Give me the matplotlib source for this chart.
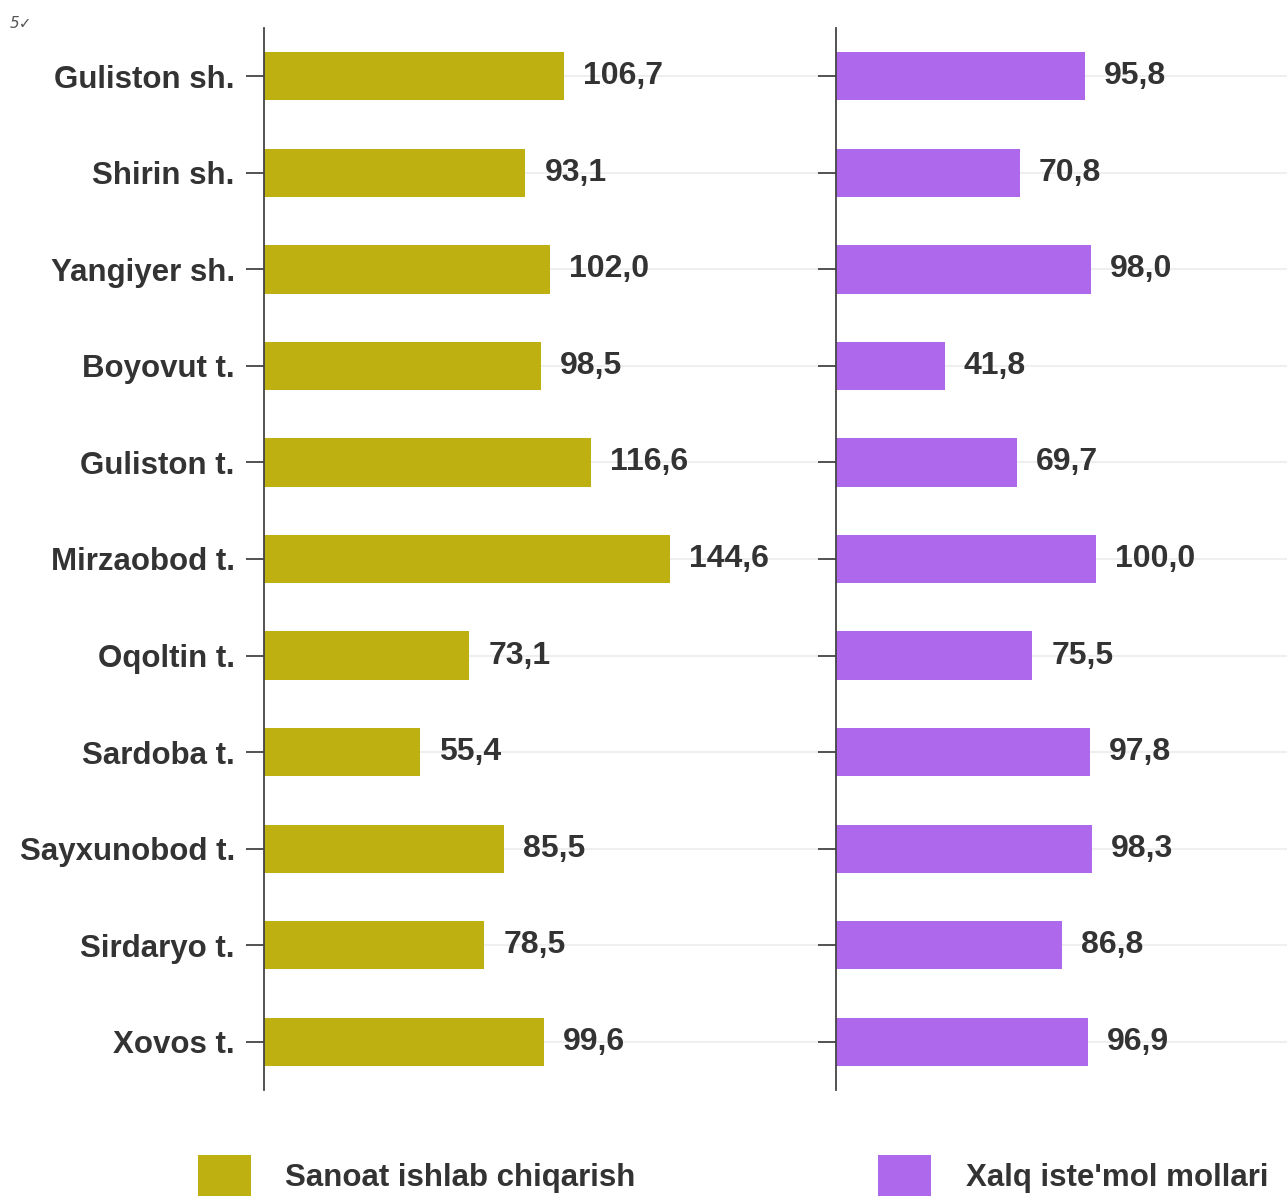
import matplotlib
matplotlib.use("Agg")
import matplotlib.pyplot as plt
from matplotlib.patches import Patch

categories = ["Guliston sh.", "Shirin sh.", "Yangiyer sh.", "Boyovut t.", "Guliston t.",
              "Mirzaobod t.", "Oqoltin t.", "Sardoba t.", "Sayxunobod t.", "Sirdaryo t.", "Xovos t."]
sanoat = [106.7, 93.1, 102.0, 98.5, 116.6, 144.6, 73.1, 55.4, 85.5, 78.5, 99.6]
xalq = [95.8, 70.8, 98.0, 41.8, 69.7, 100.0, 75.5, 97.8, 98.3, 86.8, 96.9]
series_names = ["Sanoat ishlab chiqarish", "Xalq iste'mol mollari"]

olive = "#BDB010"
purple = "#AE68EC"
txt = "#333333"

plt.rcParams['font.family'] = ['Liberation Sans', 'DejaVu Sans']
plt.rcParams['font.weight'] = 'bold'

fig = plt.figure(figsize=(12.87, 11.96), dpi=100)
top = 1 - 28 / 1196
bot = 1 - 1090 / 1196
ax1 = fig.add_axes([264 / 1287, bot, 556 / 1287, top - bot])
ax2 = fig.add_axes([836 / 1287, bot, 451 / 1287, top - bot])

y = list(range(len(categories)))
for ax, vals, col, xmax in [(ax1, sanoat, olive, 198), (ax2, xalq, purple, 173.5)]:
    ax.set_ylim(len(categories) - 0.5, -0.5)
    ax.set_xlim(0, xmax)
    for yi in y:
        ax.axhline(yi, color="#EFEFEF", lw=1.5, zorder=0)
    ax.barh(y, vals, height=0.5, color=col, zorder=2)
    for yi, v in zip(y, vals):
        ax.annotate(f"{v:.1f}".replace('.', ','), (v, yi), xytext=(19, 0),
                    textcoords='offset pixels', ha='left', va='center',
                    fontsize=23, fontweight='bold', color=txt)
    for s in ['top', 'right', 'bottom']:
        ax.spines[s].set_visible(False)
    ax.spines['left'].set_color("#444444")
    ax.spines['left'].set_linewidth(1.3)
    ax.set_xticks([])
    ax.set_yticks(y)
    ax.tick_params(axis='y', length=13, width=1.3, color="#444444", pad=8)
    ax.set_facecolor('none')

ax1.set_yticklabels(categories, fontsize=22.5, fontweight='bold', color=txt)
ax2.set_yticklabels([])

handles = [Patch(facecolor=olive, edgecolor='none'), Patch(facecolor=purple, edgecolor='none')]
leg = fig.legend(handles, series_names, loc='center', bbox_to_anchor=(733 / 1287, 1 - 1176 / 1196),
                 ncol=2, frameon=False, fontsize=22.5, handlelength=1.7, handleheight=1.7,
                 handletextpad=1.1, columnspacing=7.75, borderpad=0, borderaxespad=0)
for t in leg.get_texts():
    t.set_color(txt)
    t.set_fontweight('bold')

fig.text(10 / 1287, 1 - 28 / 1196, "5\u2713", fontsize=11, color="#555555", style='italic',
         fontweight='normal', family=['DejaVu Sans'])

fig.savefig("out.png", dpi=100)
